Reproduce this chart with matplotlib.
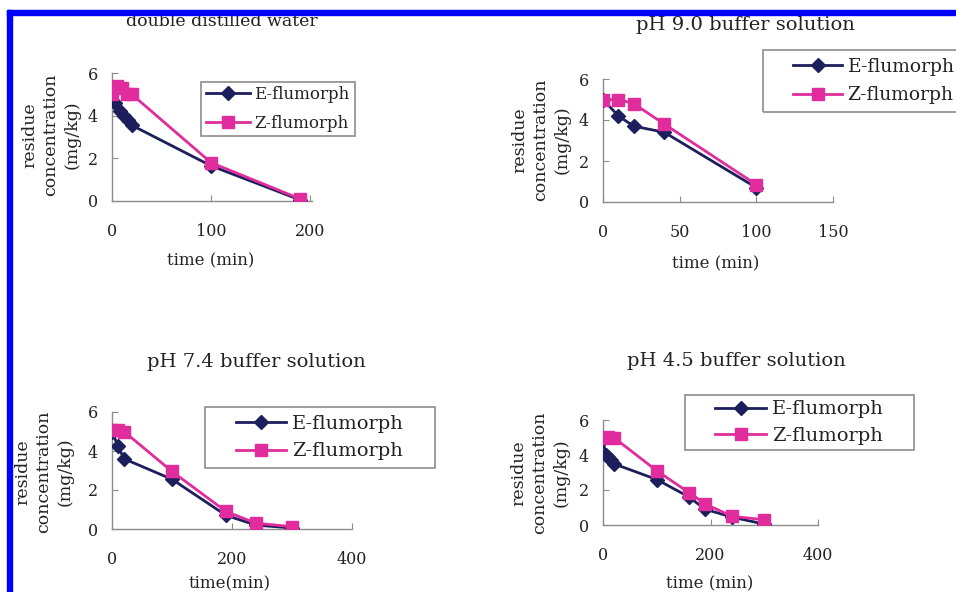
import matplotlib
matplotlib.use("Agg")
import matplotlib.pyplot as plt
from matplotlib.patches import Rectangle

plt.rcParams['font.family'] = ['DejaVu Serif']

# data: time (min), residue (mg/kg)
water_t_E = [3, 8, 12, 16, 20, 100, 190]
water_E = [4.6, 4.2, 4.0, 3.8, 3.55, 1.65, 0.05]
water_t_Z = [0, 5, 10, 15, 20, 100, 190]
water_Z = [5.0, 5.4, 5.3, 5.0, 5.0, 1.8, 0.1]

ph90_t = [0, 10, 20, 40, 100]
ph90_E = [5.0, 4.2, 3.7, 3.4, 0.7]
ph90_Z = [5.0, 5.0, 4.8, 3.8, 0.85]

ph74_t = [0, 10, 20, 100, 190, 240, 300]
ph74_E = [5.0, 4.25, 3.6, 2.55, 0.7, 0.2, 0.05]
ph74_Z = [5.1, 5.1, 5.0, 2.95, 0.9, 0.3, 0.12]

ph45_t_E = [0, 5, 10, 15, 20, 100, 160, 190, 240, 300]
ph45_E = [4.9, 4.0, 3.9, 3.7, 3.5, 2.6, 1.6, 0.9, 0.45, 0.05]
ph45_t_Z = [0, 10, 20, 100, 160, 190, 240, 300]
ph45_Z = [5.0, 5.05, 5.0, 3.1, 1.85, 1.2, 0.5, 0.3]

titles = ["double distilled water", "pH 9.0 buffer solution",
          "pH 7.4 buffer solution", "pH 4.5 buffer solution"]
xlabels = ["time (min)", "time (min)", "time(min)", "time (min)"]
ylabel = "residue\nconcentration\n(mg/kg)"

navy = "#1c1f5c"
pink = "#e02c9c"
grey = "#8c8c8c"
ink = "#222222"
W, H = 956, 592


def box(x0, y0, x1, y1):
    # pixel box (top-left origin) -> figure fraction rect
    return [x0 / W, 1 - y1 / H, (x1 - x0) / W, (y1 - y0) / H]


fig = plt.figure(figsize=(9.56, 5.92), dpi=100)
fig.patch.set_facecolor("white")

panels = [
    dict(rect=box(112, 73, 312, 201), xlim=(0, 202), xticks=[0, 100, 200],
         tE=water_t_E, E=water_E, tZ=water_t_Z, Z=water_Z,
         title_xy=(222, 21), title_fs=12.5, xl_xy=(211, 261), yl_x=51, yl_y=135,
         leg=(201, 82, 355, 136), lfs=12, lsp=0.7),
    dict(rect=box(603, 79, 833, 202), xlim=(0, 150), xticks=[0, 50, 100, 150],
         tE=ph90_t, E=ph90_E, tZ=ph90_t, Z=ph90_Z,
         title_xy=(745, 25), title_fs=14, xl_xy=(716, 264), yl_x=541, yl_y=140,
         leg=(763, 50, 985, 112), lfs=13.5, lsp=0.55),
    dict(rect=box(112, 412, 352, 529), xlim=(0, 400), xticks=[0, 200, 400],
         tE=ph74_t, E=ph74_E, tZ=ph74_t, Z=ph74_Z,
         title_xy=(256, 362), title_fs=14, xl_xy=(230, 584), yl_x=44, yl_y=472,
         leg=(205, 407, 435, 468), lfs=14, lsp=0.5),
    dict(rect=box(603, 420, 818, 525), xlim=(0, 400), xticks=[0, 200, 400],
         tE=ph45_t_E, E=ph45_E, tZ=ph45_t_Z, Z=ph45_Z,
         title_xy=(736, 361), title_fs=14, xl_xy=(710, 584), yl_x=540, yl_y=473,
         leg=(685, 395, 914, 450), lfs=14, lsp=0.42),
]

for i, p in enumerate(panels):
    ax = fig.add_axes(p["rect"])
    ax.plot(p["tE"], p["E"], color=navy, lw=2, marker="D", ms=7,
            label="E-flumorph", zorder=3)
    ax.plot(p["tZ"], p["Z"], color=pink, lw=2, marker="s", ms=8,
            label="Z-flumorph", zorder=4)
    ax.set_xlim(*p["xlim"])
    ax.set_ylim(0, 6)
    ax.set_xticks(p["xticks"])
    ax.set_yticks([0, 2, 4, 6])
    for s in ["top", "right"]:
        ax.spines[s].set_visible(False)
    for s in ["left", "bottom"]:
        ax.spines[s].set_color(grey)
        ax.spines[s].set_linewidth(1)
    ax.tick_params(axis="x", direction="in", length=4, color=grey,
                   labelsize=11.5, pad=16, labelcolor=ink)
    ax.tick_params(axis="y", direction="in", length=4, color=grey,
                   labelsize=11.5, pad=10, labelcolor=ink)
    ax.patch.set_alpha(0)

    fig.text(p["title_xy"][0] / W, 1 - p["title_xy"][1] / H, titles[i],
             ha="center", va="center", fontsize=p["title_fs"], color=ink)
    fig.text(p["xl_xy"][0] / W, 1 - p["xl_xy"][1] / H, xlabels[i],
             ha="center", va="center", fontsize=12, color=ink)
    fig.text(p["yl_x"] / W, 1 - p["yl_y"] / H, ylabel, rotation=90,
             ha="center", va="center", fontsize=12.5, color=ink,
             linespacing=1.3, multialignment="center")

    # legend: centered content inside a separate grey frame
    x0, y0, x1, y1 = p["leg"]
    r = box(x0, y0, x1, y1)
    leg = ax.legend(loc="center", bbox_to_anchor=(r[0] + r[2] / 2, r[1] + r[3] / 2),
                    bbox_transform=fig.transFigure, fontsize=p["lfs"],
                    handlelength=2.6, handletextpad=0.3, borderpad=0.2,
                    labelspacing=p["lsp"], frameon=False)
    for t in leg.get_texts():
        t.set_color(ink)
    fig.add_artist(Rectangle((r[0], r[1]), r[2], r[3], transform=fig.transFigure,
                             fill=False, edgecolor=grey, lw=1.2, zorder=5))

# blue frame of the figure
fig.add_artist(Rectangle((7 / W, 0), 5 / W, 1 - 10 / H, transform=fig.transFigure,
                         color="#0000ff", zorder=10))
fig.add_artist(Rectangle((7 / W, 1 - 15 / H), 1, 5 / H, transform=fig.transFigure,
                         color="#0000ff", zorder=10))

fig.savefig("out.png", dpi=100)
